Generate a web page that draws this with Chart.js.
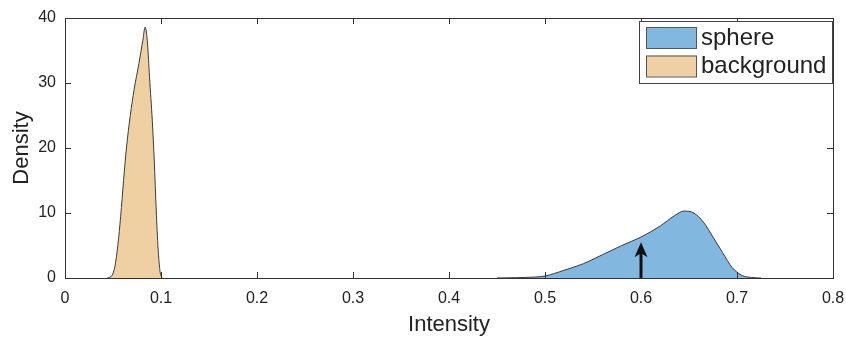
<!DOCTYPE html>
<html>
<head>
<meta charset="utf-8">
<script src="https://cdn.jsdelivr.net/npm/chart.js@4.4.0/dist/chart.umd.min.js"></script>
<style>
html,body{margin:0;padding:0;background:#fff;}
#wrap{width:846px;height:339px;}
</style>
</head>
<body>
<div id="wrap"><canvas id="chartDensity" width="846" height="339"></canvas></div>
<script>
// tick values
var xTicks = [0, 0.1, 0.2, 0.3, 0.4, 0.5, 0.6, 0.7, 0.8];
var yTicks = [0, 10, 20, 30, 40];

// background density
var bgX = [0.044, 0.049, 0.052, 0.055, 0.058, 0.061, 0.064, 0.068, 0.072, 0.077, 0.081, 0.0835, 0.086, 0.088, 0.091, 0.093, 0.095, 0.097, 0.099, 0.101];
var bgY = [0, 0.4, 1.8, 5, 9.5, 15, 20, 25, 29, 33, 36.5, 38.6, 36, 31, 24, 18, 10.5, 4.5, 1, 0];

// sphere density
var sphereX = [0.45, 0.47, 0.49, 0.50, 0.52, 0.54, 0.56, 0.58, 0.60, 0.62, 0.635, 0.645, 0.655, 0.665, 0.675, 0.685, 0.695, 0.705, 0.715, 0.725];
var sphereY = [0, 0.05, 0.15, 0.3, 1.2, 2.2, 3.6, 5.0, 6.3, 8.0, 9.6, 10.3, 10.0, 8.6, 6.3, 3.9, 1.6, 0.4, 0.08, 0];

// arrow marker
var arrowX = [0.6];
var arrowY = [5.5];

var seriesNames = ['sphere', 'background'];
var seriesColors = ['rgb(130,183,223)', 'rgb(238,208,163)'];

var FONT = '"Liberation Sans", Arial, sans-serif';
var INK = '#222';

function toPoints(xs, ys){
	return xs.map(function(x, i){ return {x: x, y: ys[i]}; });
}

// box around the plot + inward ticks on all four sides
var boxTicks = {
	id: 'boxTicks',
	afterDatasetsDraw: function(chart){
		var c = chart.ctx, a = chart.chartArea, sx = chart.scales.x, sy = chart.scales.y;
		var len = 6;
		c.save();
		c.strokeStyle = '#333';
		c.lineWidth = 1;
		c.beginPath();
		xTicks.forEach(function(v){
			var p = Math.round(sx.getPixelForValue(v)) + 0.5;
			c.moveTo(p, a.bottom); c.lineTo(p, a.bottom - len);
			c.moveTo(p, a.top); c.lineTo(p, a.top + len);
		});
		yTicks.forEach(function(v){
			var p = Math.round(sy.getPixelForValue(v)) + 0.5;
			c.moveTo(a.left, p); c.lineTo(a.left + len, p);
			c.moveTo(a.right, p); c.lineTo(a.right - len, p);
		});
		c.stroke();
		c.strokeRect(Math.round(a.left) + 0.5, Math.round(a.top) + 0.5, Math.round(a.right - a.left), Math.round(a.bottom - a.top));
		c.restore();
	}
};

// black arrow at the marked intensity
var arrowMark = {
	id: 'arrowMark',
	afterDatasetsDraw: function(chart){
		var c = chart.ctx, sx = chart.scales.x, sy = chart.scales.y;
		arrowX.forEach(function(v, i){
			var x = sx.getPixelForValue(v);
			var y0 = sy.getPixelForValue(0);
			var y1 = sy.getPixelForValue(arrowY[i]);
			c.save();
			c.strokeStyle = '#111';
			c.fillStyle = '#111';
			c.lineWidth = 3;
			c.beginPath();
			c.moveTo(x, y0); c.lineTo(x, y1 + 10);
			c.stroke();
			c.beginPath();
			c.moveTo(x, y1);
			c.lineTo(x - 6.5, y1 + 15);
			c.lineTo(x, y1 + 11);
			c.lineTo(x + 6.5, y1 + 15);
			c.closePath();
			c.fill();
			c.restore();
		});
	}
};

// matlab-like legend box in the upper right
var boxLegend = {
	id: 'boxLegend',
	afterDraw: function(chart){
		var c = chart.ctx, a = chart.chartArea;
		var w = 193, h = 62;
		var left = a.right - w - 1, top = a.top + 3;
		c.save();
		c.fillStyle = '#fff';
		c.fillRect(left, top, w, h);
		c.strokeStyle = '#444';
		c.lineWidth = 1;
		c.strokeRect(left + 0.5, top + 0.5, w, h);
		c.font = '24px ' + FONT;
		c.textBaseline = 'middle';
		c.textAlign = 'left';
		seriesNames.forEach(function(name, i){
			var y = top + 6 + i * 28.5;
			c.fillStyle = seriesColors[i];
			c.fillRect(left + 7, y, 50, 21);
			c.strokeStyle = '#555';
			c.strokeRect(left + 7.5, y + 0.5, 50, 21);
			c.fillStyle = INK;
			c.fillText(name, left + 62, y + 11);
		});
		c.restore();
	}
};

var ctx = document.getElementById('chartDensity').getContext('2d');
var chart = new Chart(ctx, {
	type: 'line',
	data: {
		datasets: [{
			label: seriesNames[0],
			data: toPoints(sphereX, sphereY),
			backgroundColor: seriesColors[0],
			borderColor: '#3a3a3a',
			borderWidth: 1,
			fill: 'origin',
			pointRadius: 0,
			cubicInterpolationMode: 'monotone'
		}, {
			label: seriesNames[1],
			data: toPoints(bgX, bgY),
			backgroundColor: seriesColors[1],
			borderColor: '#3a3a3a',
			borderWidth: 1,
			fill: 'origin',
			pointRadius: 0,
			cubicInterpolationMode: 'monotone'
		}]
	},
	options: {
		responsive: false,
		animation: false,
		layout: { padding: { top: 18, right: 13, left: 0, bottom: 0 } },
		plugins: { legend: { display: false }, tooltip: { enabled: false } },
		scales: {
			x: {
				type: 'linear',
				min: 0, max: 0.8,
				afterBuildTicks: function(s){ s.ticks = xTicks.map(function(v){ return {value: v}; }); },
				afterFit: function(s){ s.height = 61; s.paddingLeft = 0; s.paddingRight = 0; },
				grid: { display: false, drawTicks: false },
				border: { display: false },
				ticks: {
					padding: 11, maxRotation: 0, autoSkip: false, color: INK,
					font: { family: FONT, size: 16 },
					callback: function(v){ return v === 0 ? '0' : Number(v).toFixed(1); }
				},
				title: { display: true, text: 'Intensity', color: INK, font: { family: FONT, size: 22 }, padding: { top: 0, bottom: 1 } }
			},
			y: {
				min: 0, max: 40,
				afterBuildTicks: function(s){ s.ticks = yTicks.map(function(v){ return {value: v}; }); },
				afterFit: function(s){ s.width = 65; s.paddingTop = 0; s.paddingBottom = 0; },
				grid: { display: false, drawTicks: false },
				border: { display: false },
				ticks: { padding: 9, color: INK, font: { family: FONT, size: 16 } },
				title: { display: true, text: 'Density', color: INK, font: { family: FONT, size: 22 }, padding: { top: 9, bottom: 0 } }
			}
		}
	},
	plugins: [boxTicks, arrowMark, boxLegend]
});
</script>
</body>
</html>
